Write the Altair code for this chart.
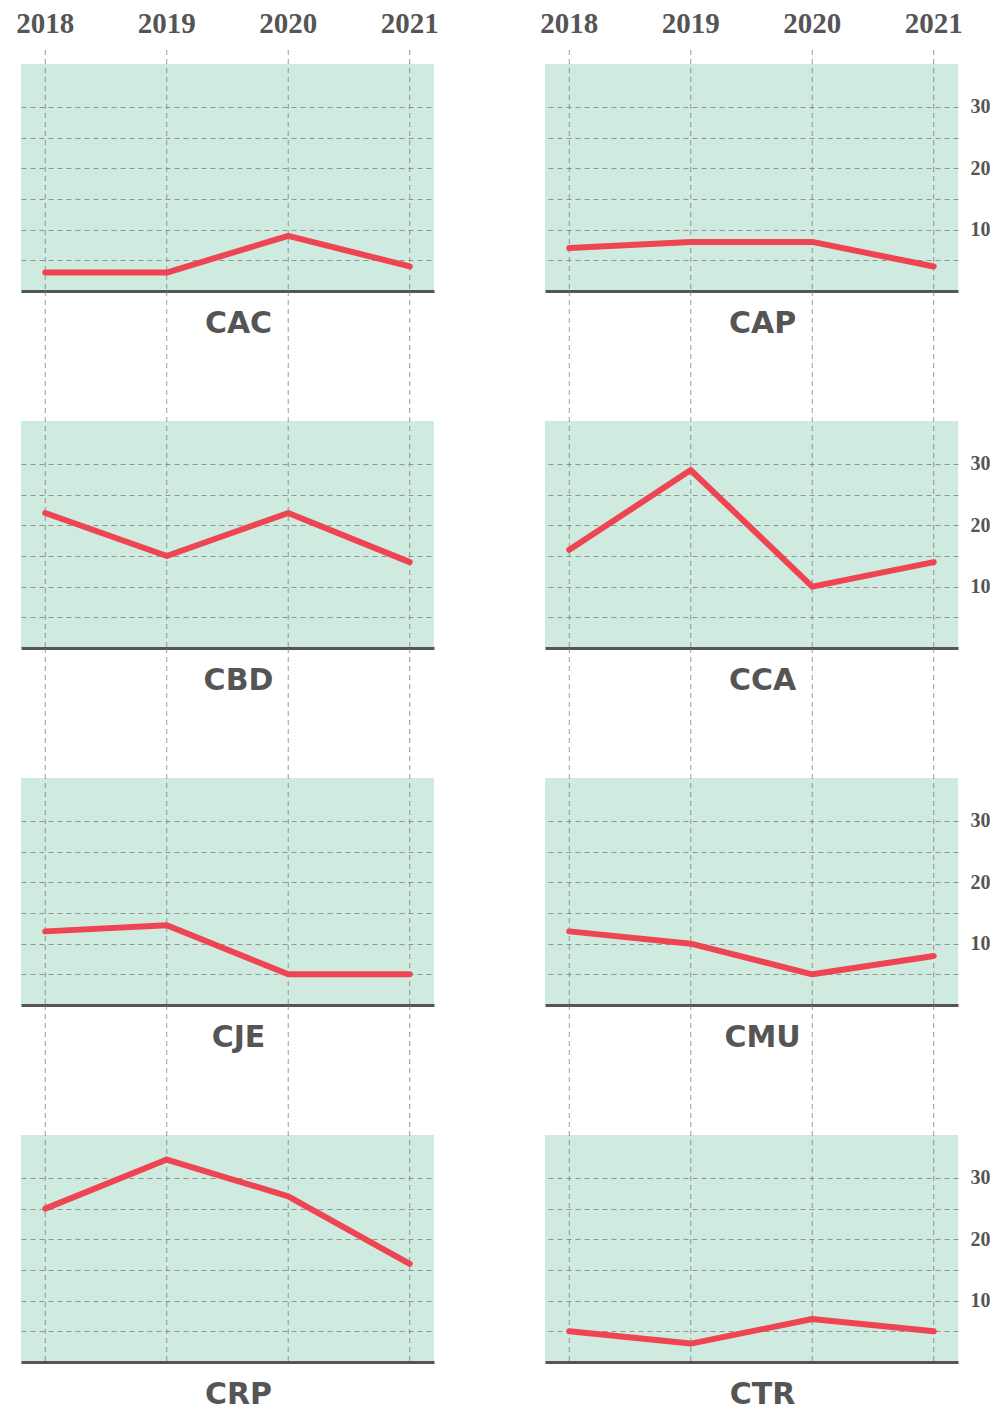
import altair as alt
import pandas as pd

years = [2018, 2019, 2020, 2021]
year_labels = ["2018", "2019", "2020", "2021"]
codes = ["CAC", "CAP", "CBD", "CCA", "CJE", "CMU", "CRP", "CTR"]

cac = [3, 3, 9, 4]
cap = [7, 8, 8, 4]
cbd = [22, 15, 22, 14]
cca = [16, 29, 10, 14]
cje = [12, 13, 5, 5]
cmu = [12, 10, 5, 8]
crp = [25, 33, 27, 16]
ctr = [5, 3, 7, 5]
series = [cac, cap, cbd, cca, cje, cmu, crp, ctr]

grid_values = [5, 10, 15, 20, 25, 30]

W, H = 413, 227
GAP_ROW = 130
GAP_COL = 111
GREEN = "#cfeadf"
RED = "#ef4452"
GRAY = "#555555"
GRID = "#7a7a7a"


def panel(code, vals, idx):
    row, col = divmod(idx, 2)
    df = pd.DataFrame({"year": years, "value": vals, "label": year_labels})
    x = alt.X(
        "year:Q",
        scale=alt.Scale(domain=[2017.8, 2021.2], nice=False, zero=False),
        axis=alt.Axis(orient="bottom", labels=False, ticks=False, grid=False,
                      domain=True, domainColor=GRAY, domainWidth=3,
                      title=None, zindex=1),
    )
    yaxis_kw = dict(values=grid_values, ticks=False, domain=False, grid=True,
                    gridDash=[5, 4], gridColor=GRID, gridOpacity=0.75,
                    gridWidth=1, title=None)
    if col == 1:
        yaxis = alt.Axis(orient="right", labels=True,
                         labelExpr="datum.value % 10 == 0 ? datum.label : ''",
                         labelPadding=12, labelFont="Liberation Serif",
                         labelFontSize=20, labelColor=GRAY, labelFontWeight="bold",
                         **yaxis_kw)
    else:
        yaxis = alt.Axis(orient="left", labels=False, **yaxis_kw)
    y = alt.Y("value:Q", scale=alt.Scale(domain=[0, 37], nice=False), axis=yaxis)

    top = -14 if row == 0 else -GAP_ROW
    rules = alt.Chart(df).mark_rule(
        color=GRID, opacity=0.75, strokeDash=[5, 4], strokeWidth=1
    ).encode(x=x, y=alt.value(top), y2=alt.value(H))

    line = alt.Chart(df).mark_line(
        color=RED, strokeWidth=6, strokeCap="round", strokeJoin="round"
    ).encode(x=x, y=y)

    title = alt.Chart(pd.DataFrame({"t": [code]})).mark_text(
        font="DejaVu Sans", fontWeight="bold", fontSize=30,
        color=GRAY, baseline="middle", align="center"
    ).encode(text="t:N", x=alt.value(W / 2 + 11), y=alt.value(H + 33))

    layers = [rules, line, title]
    if row == 0:
        toplab = alt.Chart(df).mark_text(
            font="Liberation Serif", fontWeight="bold", fontSize=29,
            color=GRAY, baseline="middle", align="center"
        ).encode(x=x, y=alt.value(-40), text="label:N")
        layers.append(toplab)
    return alt.layer(*layers).properties(width=W, height=H)


panels = [panel(c, v, i) for i, (c, v) in enumerate(zip(codes, series))]

chart = alt.concat(
    *panels, columns=2, spacing={"row": GAP_ROW, "column": GAP_COL}, bounds="flush"
).properties(
    padding={"left": 8, "top": 2, "right": 0, "bottom": 0}
).configure_view(fill=GREEN, stroke=None)

chart.save("out.html", embed_options={"renderer": "svg", "actions": False})
